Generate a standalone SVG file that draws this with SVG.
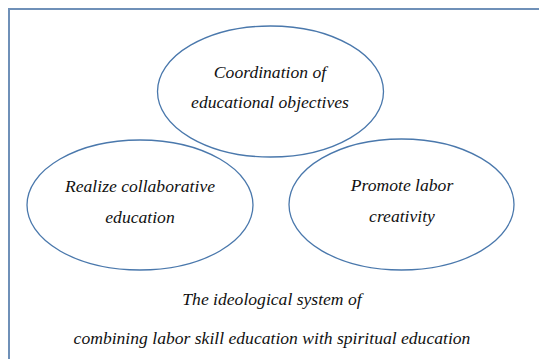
<svg xmlns="http://www.w3.org/2000/svg" width="539" height="359" viewBox="0 0 539 359">
<style>
.frame{fill:none;stroke:#6f90b8;stroke-width:2}
.node{fill:#fff;stroke:#4a78ac;stroke-width:1.3}
text{font-family:"Liberation Serif","Times New Roman",serif;font-style:italic;font-size:17.6px;fill:#111;text-anchor:middle}
</style>
<rect width="539" height="359" fill="#fff"/>
<rect class="frame" x="9" y="9" width="560" height="380"/>
<g id="node-coordination">
<ellipse class="node" cx="270.5" cy="91.5" rx="113" ry="65.5"/>
<text x="270" y="78">Coordination of</text>
<text x="270" y="108">educational objectives</text>
</g>
<g id="node-collaborative">
<ellipse class="node" cx="140" cy="205" rx="113" ry="65"/>
<text x="140" y="192">Realize collaborative</text>
<text x="140" y="223">education</text>
</g>
<g id="node-creativity">
<ellipse class="node" cx="401.5" cy="204.5" rx="112.5" ry="65.5"/>
<text x="402" y="191">Promote labor</text>
<text x="402" y="222">creativity</text>
</g>
<g id="caption">
<text x="272" y="305">The ideological system of</text>
<text x="272" y="344">combining labor skill education with spiritual education</text>
</g>
<g id="connectors"/>
</svg>
